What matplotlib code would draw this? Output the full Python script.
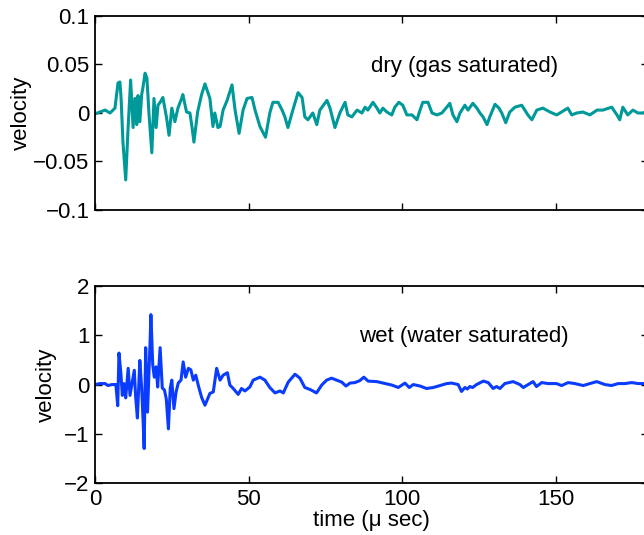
import matplotlib.pyplot as plt

plt.rcParams["font.family"] = ["Liberation Sans", "DejaVu Sans"]

# -------------------------- Data --------------------------

dry_t = [0, 1.6, 3.3, 4.9, 6.5, 7.5, 8.1, 8.5, 9.1, 10.0, 10.7, 11.6, 12.4, 13.0,
         13.6, 14.0, 14.6, 15.2, 15.6, 16.3, 16.9, 17.6, 18.5, 19.2, 19.9, 20.5,
         21.2, 22.1, 23.3, 24.1, 25.0, 26.0, 27.0, 28.2, 28.6, 29.8, 30.9, 31.6,
         32.2, 33.4, 34.7, 35.8, 37.4, 38.4, 39.0, 40.0, 40.7, 41.7, 43.0, 44.6,
         45.6, 46.9, 48.2, 49.5, 51.1, 52.1, 53.7, 55.5, 56.9, 57.9, 59.6, 60.9,
         61.8, 62.8, 64.4, 66.1, 67.4, 68.3, 69.3, 70.9, 72.2, 73.2, 75.5, 76.5,
         78.1, 79.7, 81.4, 82.3, 83.6, 85.3, 86.9, 87.9, 88.8, 90.5, 91.8, 92.7,
         93.7, 95.0, 96.6, 97.6, 98.9, 100.2, 101.5, 103.2, 104.8, 105.8, 106.7,
         108.4, 109.7, 111.3, 112.9, 114.5, 115.5, 116.5, 117.8, 118.8, 120.4,
         121.4, 123.0, 124.3, 125.3, 126.3, 127.6, 128.5, 130.2, 131.5, 132.4,
         133.7, 135.0, 136.7, 138.9, 139.9, 140.9, 142.2, 143.8, 145.8, 148.1,
         150.3, 152.9, 153.9, 155.2, 156.8, 158.8, 161.1, 163.4, 165.3, 168.2,
         169.9, 170.8, 171.8, 173.4, 175.1, 176.7, 178.3, 180.0]
dry_v = [-0.001, 0.001, 0.003, 0.0, 0.005, 0.031, 0.032, 0.015, -0.030, -0.069,
         -0.020, 0.034, -0.015, 0.015, -0.012, 0.018, -0.009, 0.019, 0.026, 0.041,
         0.036, -0.002, -0.041, 0.015, -0.015, 0.008, 0.011, 0.016, -0.005, -0.023,
         0.005, -0.009, 0.005, 0.015, 0.019, 0.001, 0.0, -0.015, -0.030, 0.001,
         0.019, 0.030, 0.015, -0.014, 0.0, -0.015, -0.014, 0.003, 0.013, 0.029,
         0.003, -0.021, 0.003, 0.015, 0.016, 0.003, -0.014, -0.025, 0.0, 0.011,
         0.011, 0.003, -0.004, -0.015, 0.003, 0.021, 0.016, -0.004, -0.007, 0.0,
         -0.012, 0.003, 0.013, 0.005, -0.015, 0.0, 0.011, -0.002, -0.004, 0.003,
         0.0, 0.006, 0.003, 0.011, 0.005, 0.0, 0.005, 0.001, -0.002, 0.006, 0.011,
         0.008, -0.002, -0.002, -0.007, 0.003, 0.011, 0.011, 0.0, -0.002, 0.0,
         0.006, 0.010, -0.002, -0.009, 0.0, 0.008, 0.003, 0.010, 0.005, 0.0,
         -0.004, -0.012, -0.004, 0.009, 0.005, 0.0, -0.010, 0.001, 0.006, 0.008,
         0.003, -0.002, -0.007, 0.003, 0.005, 0.001, -0.002, 0.003, 0.005, -0.002,
         0.0, 0.001, -0.002, 0.003, 0.003, 0.006, -0.002, -0.007, 0.006, -0.002,
         0.003, 0.0, 0.0, 0.002]

wet_t = [0, 1.6, 3.3, 4.2, 5.5, 6.8, 7.4, 7.8, 8.4, 8.9, 9.4, 10.0, 10.8, 11.4,
         12.1, 12.8, 13.2, 13.8, 14.6, 15.2, 15.7, 16.0, 16.5, 17.1, 17.9, 18.2,
         18.8, 19.3, 19.9, 20.4, 21.2, 21.9, 22.6, 23.2, 23.9, 24.5, 25.0, 25.7,
         26.4, 27.1, 28.0, 28.7, 29.5, 30.4, 31.2, 32.0, 32.8, 33.6, 34.7, 35.8,
         37.4, 38.5, 39.6, 40.7, 41.7, 43.1, 43.9, 45.0, 46.6, 47.7, 48.8, 50.4,
         51.5, 53.7, 55.3, 56.9, 58.6, 60.2, 61.3, 62.9, 65.1, 66.7, 68.3, 70.0,
         72.1, 73.8, 75.4, 77.0, 78.7, 80.3, 81.7, 83.0, 84.6, 86.2, 87.5, 88.9,
         91.7, 93.8, 96.6, 98.7, 100.9, 102.3, 103.6, 105.8, 107.9, 110.1, 112.3,
         114.5, 116.1, 118.2, 119.3, 120.4, 121.2, 122.0, 122.9, 124.2, 126.4,
         128.0, 129.6, 130.7, 131.8, 133.4, 136.1, 138.3, 139.4, 141.0, 142.6,
         143.7, 145.4, 147.5, 150.2, 151.9, 154.0, 156.2, 158.9, 161.1, 163.3,
         166.0, 168.1, 170.3, 172.5, 174.7, 176.8, 178.7, 180.0]
wet_v = [0.0, 0.02, 0.02, -0.02, 0.0, 0.0, -0.43, 0.64, 0.25, -0.22, 0.02, -0.27,
         0.33, -0.22, 0.04, 0.29, -0.22, -0.68, 0.49, -0.08, -0.8, -1.3, 0.75,
         -0.56, 0.81, 1.42, 0.40, 0.15, 0.36, -0.05, 0.75, -0.07, -0.11, -0.29,
         -0.9, -0.07, 0.09, -0.49, -0.15, 0.03, 0.09, 0.46, 0.15, 0.33, 0.30, 0.09,
         0.19, -0.01, -0.26, -0.42, -0.18, -0.15, 0.33, 0.09, 0.19, 0.24, -0.01,
         -0.08, -0.2, -0.08, -0.13, -0.05, 0.09, 0.15, 0.09, -0.06, -0.17, -0.13,
         -0.17, 0.05, 0.21, 0.13, -0.06, -0.1, -0.17, -0.01, 0.09, 0.13, 0.09,
         0.05, -0.03, 0.03, 0.04, 0.08, 0.15, 0.07, 0.06, 0.03, -0.01, -0.06, 0.03,
         -0.06, 0.0, -0.03, -0.08, -0.06, -0.02, 0.02, 0.03, 0.0, -0.14, -0.06,
         -0.09, -0.04, -0.06, 0.0, 0.07, 0.04, -0.08, -0.04, -0.08, 0.02, 0.06,
         0.0, -0.06, 0.0, 0.06, -0.04, 0.04, 0.02, 0.02, -0.02, 0.04, 0.02, -0.02,
         0.02, 0.06, 0.0, -0.02, 0.02, 0.02, 0.04, 0.02, 0.02, 0.02]

x_ticks = [0, 50, 100, 150]
x_ticklabels = ["0", "50", "100", "150"]
dry_yticks = [-0.1, -0.05, 0, 0.05, 0.1]
dry_yticklabels = ["\u22120.1", "\u22120.05", "0", "0.05", "0.1"]
wet_yticks = [-2, -1, 0, 1, 2]
wet_yticklabels = ["\u22122", "\u22121", "0", "1", "2"]

FS = 16

# -------------------------- Figure --------------------------

fig = plt.figure(figsize=(6.44, 5.35), dpi=100)
ax1 = fig.add_axes([0.1475, 0.6075, 0.8587, 0.3626])
ax2 = fig.add_axes([0.1475, 0.0972, 0.8587, 0.368])

ax1.plot(dry_t, dry_v, color="#009999", linewidth=2.2)
ax2.plot(wet_t, wet_v, color="#0a3cff", linewidth=2.2)

for ax in (ax1, ax2):
    ax.set_xlim(0, 180)
    ax.set_xticks(x_ticks)
    ax.tick_params(direction="in", top=True, right=True, length=5,
                   width=1, labelsize=FS, pad=4)
    for sp in ax.spines.values():
        sp.set_linewidth(1.3)

ax1.set_ylim(-0.1, 0.1)
ax1.set_yticks(dry_yticks)
ax1.set_yticklabels(dry_yticklabels)
ax1.set_xticklabels([])
ax1.set_ylabel("velocity", fontsize=FS, labelpad=1)

ax2.set_ylim(-2, 2)
ax2.set_yticks(wet_yticks)
ax2.set_yticklabels(wet_yticklabels)
ax2.set_xticklabels(x_ticklabels)
ax2.set_ylabel("velocity", fontsize=FS, labelpad=5)
ax2.set_xlabel("time (\u03bc sec)", fontsize=FS, labelpad=0)

ax1.text(90, 0.048, "dry (gas saturated)", fontsize=FS, va="center", ha="left")
ax2.text(86, 0.98, "wet (water saturated)", fontsize=FS, va="center", ha="left")

plt.savefig("out.png", dpi=100)
